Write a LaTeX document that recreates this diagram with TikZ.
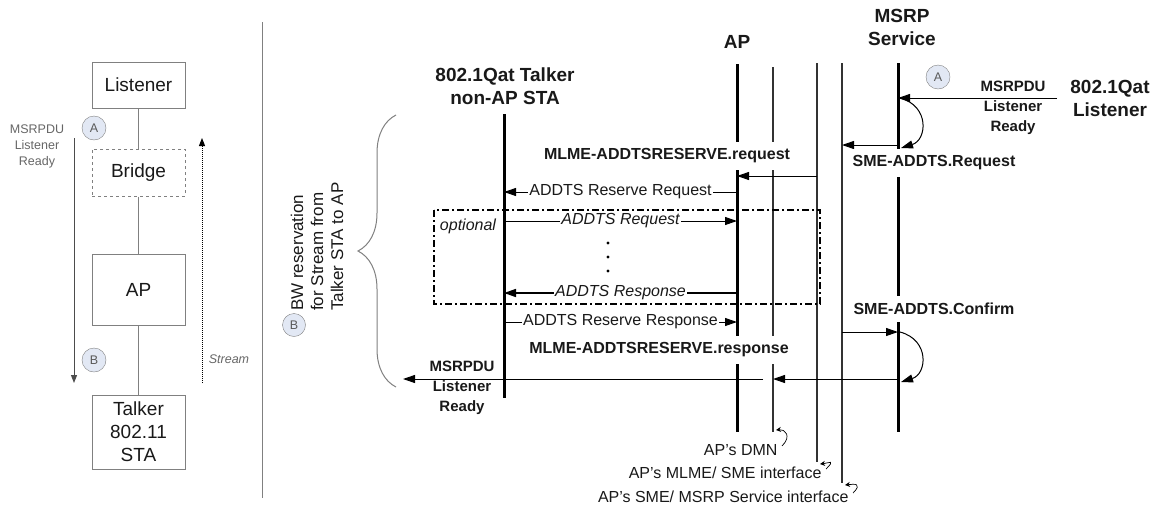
\documentclass[tikz,border=0pt]{standalone}
\usepackage{fontspec}
\setmainfont{Liberation Sans}
\usetikzlibrary{arrows.meta,decorations.pathreplacing}

\definecolor{tagfill}{RGB}{226,232,244}
\definecolor{ink}{RGB}{25,25,25}
\newcommand{\fbig}{\fontsize{19}{23}\selectfont}
\newcommand{\fhead}{\fontsize{19}{23}\selectfont\bfseries}
\newcommand{\fmsg}{\fontsize{16}{19}\selectfont}
\newcommand{\fbold}{\fontsize{16}{19}\selectfont\bfseries}
\newcommand{\fsub}{\fontsize{15}{20}\selectfont\bfseries}
\newcommand{\fsmall}{\fontsize{12.5}{16}\selectfont}
\newcommand{\fnote}{\fontsize{17}{20}\selectfont}

\tikzset{
	box/.style={draw=gray,line width=1pt,minimum width=93pt,inner sep=0pt,align=center,font=\fbig,text=ink},
	conn/.style={gray,line width=1pt},
	tag/.style={circle,draw=gray,fill=tagfill,minimum size=24pt,inner sep=0pt,font=\fsmall,text=gray!70!black},
	head/.style={font=\fhead,align=center,text=ink},
	life/.style={line width=3pt},
	thinlife/.style={line width=1.4pt,black!80},
	msg/.style={-{Triangle[length=12pt,width=8pt]},line width=1pt},
	mlbl/.style={font=\fmsg,fill=white,inner sep=1.5pt,text=ink},
	gaplbl/.style={font=\fbold,fill=white,inner xsep=1pt,inner ysep=7pt,text=ink},
	curl/.style={-{Stealth[length=5pt,width=5pt]},line width=0.7pt},
}

\begin{document}
\begin{tikzpicture}[x=1pt,y=-1pt]
	\useasboundingbox (0,0) rectangle (1161,509);
	% left panel
	\node[box,minimum height=46pt] (listener) at (138.5,85) {Listener};
	\node[box,dashed,minimum height=47pt] (bridge) at (138.5,172.5) {Bridge};
	\node[box,minimum height=71pt] (apbox) at (138.5,289.5) {AP};
	\node[box,minimum height=74pt] (talker) at (138.5,432) {Talker\\802.11\\STA};
	\draw[conn] (listener)--(bridge) (bridge)--(apbox) (apbox)--(talker);
	\coordinate (pdu0) at (74,138);
	\coordinate (pdu1) at (74,383);
	\draw[conn,-{Triangle[length=8pt,width=6pt]},black!70] (pdu0)--(pdu1);
	\node[font=\fsmall,align=center,text=gray!80!black] (pdulbl) at (37,146) {MSRPDU\\Listener\\Ready};
	\node[tag] (tagA) at (94,128) {A};
	\node[tag] (tagB) at (94,360) {B};
	\coordinate (strm0) at (202,383);
	\coordinate (strm1) at (202,138);
	\draw[densely dotted,line width=1pt,-{Triangle[length=8pt,width=6pt]}] (strm0)--(strm1);
	\node[font=\fsmall\itshape,text=gray!80!black] (strmlbl) at (229,359) {Stream};
	\coordinate (sep0) at (262,22);
	\coordinate (sep1) at (262,498);
	\draw[conn] (sep0)--(sep1);
	% brace
	\coordinate (br0) at (396,387);
	\coordinate (br1) at (396,115);
	\draw[gray,line width=1pt,decorate,decoration={brace,amplitude=38pt}] (br0)--(br1);
	\node[rotate=90,anchor=west,align=left,font=\fnote,text=ink,inner sep=0pt] (bwlbl) at (317,311) {BW reservation\\for Stream from\\Talker STA to AP};
	\node[tag,minimum size=23pt] (tagB2) at (294,325) {B};
	% headers
	\node[head] (tlkhd) at (505,86) {802.1Qat Talker\\non-AP STA};
	\node[head] (aphd) at (737,42) {AP};
	\node[head] (msrphd) at (902,27) {MSRP\\Service};
	\node[head] (lsnhd) at (1110,98) {802.1Qat\\Listener};
	% lifelines
	\coordinate (tlk0) at (504,114);  \coordinate (tlk1) at (504,398);
	\coordinate (ap0) at (737,64);    \coordinate (ap1) at (737,432);
	\coordinate (dmn0) at (773,67);   \coordinate (dmn1) at (773,432);
	\coordinate (mlme0) at (817,63);  \coordinate (mlme1) at (817,462);
	\coordinate (sme0) at (842,63);   \coordinate (sme1) at (842,483);
	\coordinate (msrp0) at (898,63);  \coordinate (msrp1) at (898,432);
	\draw[life] (tlk0)--(tlk1) (ap0)--(ap1) (msrp0)--(msrp1);
	\draw[thinlife] (dmn0)--(dmn1) (mlme0)--(mlme1) (sme0)--(sme1);
	% optional box
	\draw[line width=1.5pt,dash pattern=on 7pt off 3pt on 2pt off 3pt] (434,210) rectangle (820,304);
	\node[font=\fmsg\itshape,text=ink] (optlbl) at (468,226) {optional};
	% message rows
	\coordinate (r1) at (0,176);
	\coordinate (r2) at (0,192);
	\coordinate (r3) at (0,221);
	\coordinate (r4) at (0,293);
	\coordinate (r5) at (0,322);
	\draw[msg] (mlme0|-r1)--(ap0|-r1);
	\draw[msg] (ap0|-r2)--(tlk0|-r2) node[mlbl,midway] {ADDTS Reserve Request};
	\draw[msg] (tlk0|-r3)--(ap0|-r3) node[mlbl,midway,font=\fmsg\itshape] {ADDTS Request};
	\draw[msg,line width=1.6pt] (ap0|-r4)--(tlk0|-r4) node[mlbl,midway,font=\fmsg\itshape] {ADDTS Response};
	\draw[msg] (tlk0|-r5)--(ap0|-r5) node[mlbl,midway] {ADDTS Reserve Response};
	\foreach \y in {243,257,271}
		\fill (608,\y) circle (1.6pt);
	\node[gaplbl] (reqlbl) at (667,156) {MLME-ADDTSRESERVE.request};
	\node[gaplbl] (rsplbl) at (659,350) {MLME-ADDTSRESERVE.response};
	% MSRP side
	\coordinate (m0) at (0,98);
	\coordinate (m1) at (0,145);
	\coordinate (c1) at (0,332);
	\coordinate (c2) at (0,379);
	\coordinate (lsnout) at (1057,98);
	\coordinate (tlkout) at (403,379);
	\draw[msg] (lsnout)--(msrp0|-m0);
	\node[font=\fsub,align=center,text=ink] (lsnpdu) at (1013,108) {MSRPDU\\Listener\\Ready};
	\draw[msg] ([xshift=2pt]msrp0|-m0) .. controls +(30,8) and +(26,-8) .. ([xshift=3pt,yshift=-3pt]msrp0|-m1);
	\draw[msg] (msrp0|-m1)--(sme0|-m1);
	\node[gaplbl] (smereq) at (934,163) {SME-ADDTS.Request};
	\draw[msg] (sme0|-c1)--(msrp0|-c1);
	\draw[msg] ([xshift=2pt]msrp0|-c1) .. controls +(30,8) and +(26,-8) .. ([xshift=3pt,yshift=-3pt]msrp0|-c2);
	\node[gaplbl] (smecnf) at (934,309) {SME-ADDTS.Confirm};
	\draw[msg] (msrp0|-c2)--(dmn0|-c2);
	\draw[msg] ([xshift=-10pt]dmn0|-c2)--(tlkout);
	\node[font=\fsub,align=center,text=ink] (tlkpdu) at (462,388) {MSRPDU\\Listener\\Ready};
	\node[tag] (tagA2) at (938,77) {A};
	% bottom labels
	\node[font=\fmsg,anchor=east,text=ink] (dmnlbl) at (781,450) {AP's DMN};
	\node[font=\fmsg,anchor=east,text=ink] (mlmelbl) at (825,473) {AP's MLME/ SME interface};
	\node[font=\fmsg,anchor=east,text=ink] (smelbl) at (852,497) {AP's SME/ MSRP Service interface};
	\draw[curl] ([xshift=1pt,yshift=4pt]dmnlbl.east) .. controls +(10,-10) and +(9,-1) .. ([xshift=3pt,yshift=2pt]dmn1);
	\draw[curl] ([xshift=1pt,yshift=4pt]mlmelbl.east) .. controls +(10,-10) and +(9,-1) .. ([xshift=3pt,yshift=-2pt]mlme1);
	\draw[curl] ([xshift=1pt,yshift=4pt]smelbl.east) .. controls +(10,-10) and +(9,-1) .. ([xshift=3pt,yshift=-2pt]sme1);
\end{tikzpicture}
\end{document}
